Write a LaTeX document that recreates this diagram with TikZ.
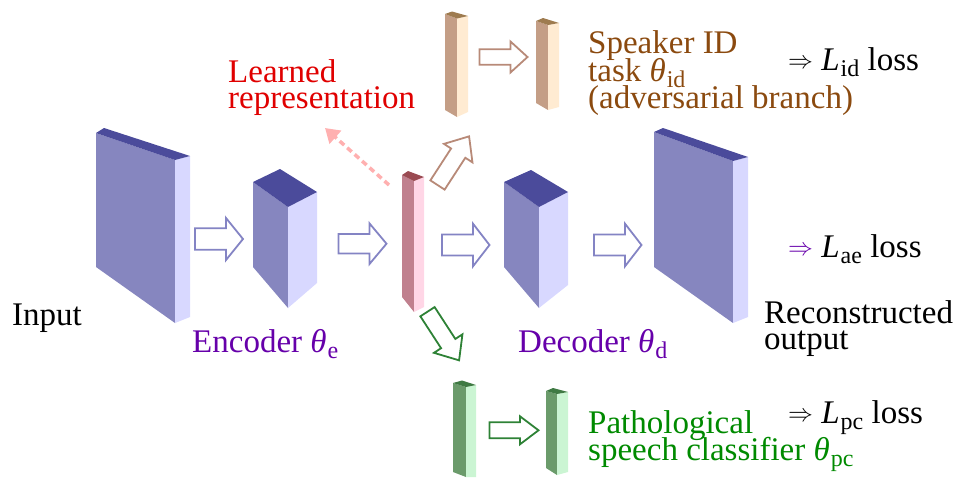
\documentclass[tikz,border=0pt]{standalone}
\usepackage{fontspec}
\setmainfont{Liberation Serif}
\usetikzlibrary{arrows.meta}
\definecolor{bTop}{HTML}{4B4B9B}
\definecolor{bFront}{HTML}{8686BF}
\definecolor{bSide}{HTML}{D8D8FF}
\definecolor{rTop}{HTML}{9A4A52}
\definecolor{rFront}{HTML}{C0808E}
\definecolor{rSide}{HTML}{FFD6E6}
\definecolor{oTop}{HTML}{9E7B4F}
\definecolor{oFront}{HTML}{C49E86}
\definecolor{oSide}{HTML}{FFEBD2}
\definecolor{gTop}{HTML}{3F7A43}
\definecolor{gFront}{HTML}{6B9B6B}
\definecolor{gSide}{HTML}{CBF5D3}
\definecolor{arBlue}{HTML}{8484C4}
\definecolor{arBrown}{HTML}{B88A78}
\definecolor{arGreen}{HTML}{2E8236}
\definecolor{txRed}{HTML}{E00000}
\definecolor{txBrown}{HTML}{8B4A0F}
\definecolor{txPurple}{HTML}{6600AA}
\definecolor{txGreen}{HTML}{008A00}
\definecolor{dashPink}{HTML}{FFB0B0}
\newcommand\blockarrow[8]{%
  \draw[#1,shift={(#2,#3)},rotate=#4] (0,-#6)--({#5-#8},-#6)--({#5-#8},-#7)--(#5,0)--({#5-#8},#7)--({#5-#8},#6)--(0,#6)--cycle;}
\newcommand\subtx[1]{\raisebox{-6pt}{\fontsize{24}{24}\selectfont #1}}
\newcommand\thetaof[1]{\textit{θ}\kern1pt\subtx{#1}}
\newcommand\lossof[1]{\textit{L}\kern1pt\subtx{#1}}
\newcommand\implies{\raisebox{2pt}{$\Rightarrow$}}
\tikzset{
  lbl/.style={anchor=base west,inner sep=0pt,text height=23pt,text depth=4pt,font=\fontsize{33}{27}\selectfont},
  blueArrow/.style={draw=arBlue,fill=white,line width=1.8pt,line join=miter},
  brownArrow/.style={draw=arBrown,fill=white,line width=1.8pt,line join=miter},
  greenArrow/.style={draw=arGreen,fill=white,line width=1.8pt,line join=miter},
}
\begin{document}
\begin{tikzpicture}[x=1pt,y=-1pt]
\useasboundingbox (0,0) rectangle (960,477);
% Input block
\fill[bFront] (96,133)--(175,160)--(175,323)--(96,267)--cycle;
\fill[bSide] (175,160)--(190,156)--(190,317)--(175,323)--cycle;
\fill[bTop] (96,133)--(104,128)--(190,156)--(175,160)--cycle;
% Encoder block
\fill[bFront] (253,182)--(288,207)--(288,308)--(253,267)--cycle;
\fill[bSide] (288,207)--(317,192)--(317,283)--(288,308)--cycle;
\fill[bTop] (253,182)--(280,169)--(317,192)--(288,207)--cycle;
% Decoder block
\fill[bFront] (504,182)--(539,207)--(539,308)--(504,267)--cycle;
\fill[bSide] (539,207)--(568,192)--(568,285)--(539,308)--cycle;
\fill[bTop] (504,182)--(531,170)--(568,192)--(539,207)--cycle;
% Output block
\fill[bFront] (654,132)--(733,161)--(733,323)--(654,267)--cycle;
\fill[bSide] (733,161)--(748,157)--(748,317)--(733,323)--cycle;
\fill[bTop] (654,132)--(663,128)--(748,157)--(733,161)--cycle;
% latent bar
\fill[rFront] (402,175)--(414,181)--(414,312)--(402,297)--cycle;
\fill[rSide] (414,181)--(424,177)--(424,307)--(414,312)--cycle;
\fill[rTop] (402,175)--(408,171)--(424,177)--(414,181)--cycle;
\coordinate (latent) at (389,185);
% speaker bars
\fill[oFront] (445,14)--(457,18.5)--(457,117)--(445,110)--cycle;
\fill[oSide] (457,18.5)--(468,16)--(468,112)--(457,117)--cycle;
\fill[oTop] (445,14)--(452,11.5)--(468,16)--(457,18.5)--cycle;
\fill[oFront] (536,21)--(548,25)--(548,110)--(536,103)--cycle;
\fill[oSide] (548,25)--(559,23)--(559,107)--(548,110)--cycle;
\fill[oTop] (536,21)--(543,18)--(559,23)--(548,25)--cycle;
% pathology bars
\fill[gFront] (453,383)--(466,387)--(466,477)--(453,472)--cycle;
\fill[gSide] (466,387)--(476,385)--(476,477)--(466,477)--cycle;
\fill[gTop] (453,383)--(462,380.5)--(476,385)--(466,387)--cycle;
\fill[gFront] (546,391)--(557,394)--(557,475)--(546,468)--cycle;
\fill[gSide] (557,394)--(568,392)--(568,472)--(557,475)--cycle;
\fill[gTop] (546,391)--(553,388)--(568,392)--(557,394)--cycle;
% block arrows
\blockarrow{blueArrow}{195}{239}{0}{48}{10.8}{21}{17}
\blockarrow{blueArrow}{338.5}{243.7}{0}{48}{9.7}{20.3}{17}
\blockarrow{blueArrow}{442}{245}{0}{47.5}{10.5}{21.3}{16.5}
\blockarrow{blueArrow}{594}{245}{0}{47.5}{10.5}{21.3}{16.5}
\blockarrow{brownArrow}{479.5}{57}{0}{48}{7.8}{15.5}{17}
\blockarrow{brownArrow}{437.5}{185}{57}{58}{8.5}{17}{20}
\blockarrow{greenArrow}{489.5}{430.3}{0}{49}{8}{14}{18.5}
\blockarrow{greenArrow}{427.5}{311.7}{-57}{58}{8.5}{17}{20}
% labels
\node[lbl,text=txRed] (lr1) at (228,82) {Learned};
\node[lbl,text=txRed] (lr2) at (228,108) {representation};
\draw[dashPink,line width=3.5pt,dash pattern=on 6pt off 4pt,-{Triangle[length=14pt,width=17pt]}] (latent) -- (325,128) coordinate (lrtip);
\node[lbl,text=txBrown] (sp1) at (588,53) {Speaker ID};
\node[lbl,text=txBrown] (sp2) at (588,81) {task \thetaof{id}};
\node[lbl,text=txBrown] (sp3) at (588,108) {(adversarial branch)};
\node[lbl] (lid) at (788,70) {\implies\ \lossof{id} loss};
\node[lbl] (lae) at (788,257) {{\color{txPurple}\implies}\ \lossof{ae} loss};
\node[lbl] (rec1) at (764,323) {Reconstructed};
\node[lbl] (rec2) at (764,349) {output};
\node[lbl] (inp) at (12,325) {Input};
\node[lbl,text=txPurple] (enc) at (192,352) {Encoder \thetaof{e}};
\node[lbl,text=txPurple] (dec) at (518,352) {Decoder \thetaof{d}};
\node[lbl,text=txGreen] (pc1) at (588,433) {Pathological};
\node[lbl,text=txGreen] (pc2) at (588,460) {speech classifier \thetaof{pc}};
\node[lbl] (lpc) at (788,423) {\implies\ \lossof{pc} loss};
\end{tikzpicture}
\end{document}
